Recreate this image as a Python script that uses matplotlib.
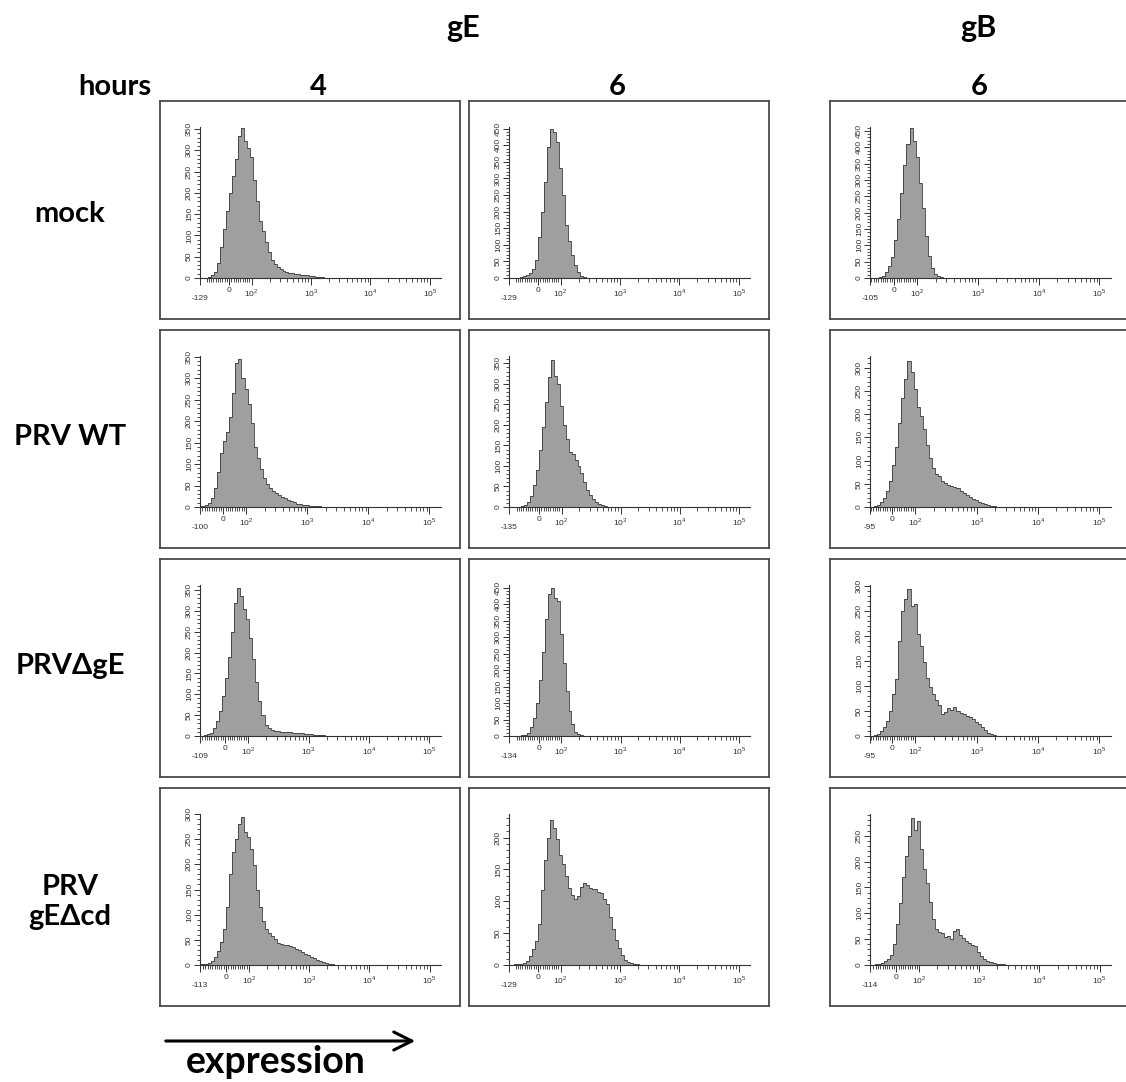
import numpy as np
import matplotlib
matplotlib.use('Agg')
import matplotlib.pyplot as plt
from matplotlib.scale import SymmetricalLogTransform
from matplotlib.ticker import NullFormatter
from matplotlib.patches import FancyArrowPatch

plt.rcParams['font.family'] = ['Liberation Sans', 'DejaVu Sans']
plt.rcParams['mathtext.fontset'] = 'custom'
plt.rcParams['mathtext.rm'] = 'Liberation Sans'

#--------------------------------------------------------------
# Data : histogram counts per bin (bins of 0.05 decade, from -0.55 decade)
#--------------------------------------------------------------
mock_gE4 = [0,0,0,1,2,6,15,36,72,115,158,200,240,280,335,352,322,305,285,230,180,135,110,85,60,42,32,26,21,17,14,12,11,10,9,8,7,6,5,4,3,2,2,1,1]
mock_gE6 = [0,0,0,0,1,2,5,9,16,26,55,125,200,290,395,450,440,410,330,250,160,110,70,38,18,7,3,1]
mock_gB6 = [0,0,0,0,0,1,3,7,17,38,65,115,180,260,345,410,460,420,370,290,215,130,68,30,13,6,2,1]

wt_gE4 = [0,0,1,2,3,5,9,22,44,82,125,155,175,210,265,335,345,300,275,240,195,140,115,88,68,54,45,37,33,28,23,20,17,14,11,8,6,5,4,3,3,2,2,1,1]
wt_gE6 = [0,0,0,0,1,2,5,13,26,54,90,140,195,255,318,358,320,300,245,200,165,134,128,115,100,82,62,42,30,19,11,7,4,2,1]
wt_gB6 = [0,0,0,0,1,2,5,11,20,34,55,90,130,180,235,275,315,290,255,215,195,168,133,105,85,72,66,57,52,48,46,44,40,35,30,25,21,17,14,11,8,6,4,3,2,1,1]

dgE_gE4 = [0,0,1,1,2,4,7,18,35,60,95,140,190,250,320,355,335,305,280,235,185,130,85,50,26,18,14,12,11,10,10,9,9,8,8,7,6,5,4,4,3,2,2,2,1,1]
dgE_gE6 = [0,0,0,1,1,2,4,10,27,55,100,170,255,355,430,450,420,410,310,220,135,75,35,13,5,3,1]
dgE_gB6 = [0,0,0,0,1,2,5,10,18,30,50,85,115,190,250,275,295,260,265,205,180,148,117,98,84,72,62,45,48,56,52,58,50,46,44,41,38,34,29,25,18,12,7,4,2,1,1,0,0,1]

dcd_gE4 = [0,0,1,1,2,4,8,15,28,46,72,115,180,225,250,280,295,265,255,230,198,150,115,88,72,63,57,52,44,42,40,39,37,36,32,29,25,22,19,16,13,10,7,5,3,2,1]
dcd_gE6 = [0,0,0,1,1,2,3,7,14,25,38,65,118,165,200,228,215,198,172,158,140,121,110,104,108,122,128,126,121,120,120,114,113,104,95,76,56,40,26,15,8,4,3,1,1]
dcd_gB6 = [0,0,0,0,1,2,4,8,12,20,40,80,120,170,210,250,285,262,278,225,185,158,122,88,70,64,62,54,57,50,66,70,58,52,46,42,38,36,26,18,12,7,5,3,2,1,1]

panels = [[mock_gE4, mock_gE6, mock_gB6],
          [wt_gE4, wt_gE6, wt_gB6],
          [dgE_gE4, dgE_gE6, dgE_gB6],
          [dcd_gE4, dcd_gE6, dcd_gB6]]

# minimum of the x axis of each panel
x_mins = [[-129, -129, -105],
          [-100, -135, -95],
          [-109, -134, -95],
          [-113, -129, -114]]

# top of the y axis of each panel
y_tops = [[355, 455, 462],
          [352, 368, 325],
          [362, 458, 302],
          [300, 237, 292]]

row_labels = ['mock', 'PRV WT', 'PRV\u0394gE', 'PRV\ngE\u0394cd']
col_hours = ['4', '6', '6']
proteins = ['gE', 'gB']

#--------------------------------------------------------------
# figure
#--------------------------------------------------------------
W, H = 1126, 1082
fig = plt.figure(figsize=(W / 100, H / 100), dpi=100)

# linear between -100 and 100, log outside (close to the logicle display)
LINTHRESH = 100
LINSCALE = 0.342
tr = SymmetricalLogTransform(10, LINTHRESH, LINSCALE)
bin_u = -0.55 + 0.05 * np.arange(52)
edges_all = tr.inverted().transform_non_affine(bin_u * LINTHRESH)

box_left = [160, 469, 830]
box_top = [101, 330, 559, 788]
BOX_W, BOX_H = 300, 218

bold = ['Lato', 'Open Sans', 'DejaVu Sans']
tick_col = '#333333'

for r in range(4):
    for c in range(3):
        L = box_left[c]
        T = box_top[r]
        frame = fig.add_axes([L / W, 1 - (T + BOX_H) / H, BOX_W / W, BOX_H / H])
        frame.set_xticks([])
        frame.set_yticks([])
        for sp in frame.spines.values():
            sp.set_color('#4a4a4a')
            sp.set_linewidth(1.3)

        ax = fig.add_axes([(L + 40) / W, 1 - (T + 177) / H, 241 / W, 151 / H])
        ax.patch.set_alpha(0)
        ax.set_xscale('symlog', linthresh=LINTHRESH, linscale=LINSCALE)

        h = panels[r][c]
        e = edges_all[:len(h) + 1]
        ax.stairs(h, e, fill=True, color='#9f9f9f', lw=0)
        ax.stairs(h, e, color='#3a3a3a', lw=0.6)

        xmin = x_mins[r][c]
        ymax = y_tops[r][c]
        ax.set_xlim(xmin, 1.55e5)
        ax.set_ylim(0, ymax)

        for s in ['top', 'right']:
            ax.spines[s].set_visible(False)
        for s in ['left', 'bottom']:
            ax.spines[s].set_color(tick_col)
            ax.spines[s].set_linewidth(0.8)

        # x ticks
        ax.set_xticks([xmin, 0, 100, 1e3, 1e4, 1e5],
                      ['\n%d' % xmin, '0', '$10^2$', '$10^3$', '$10^4$', '$10^5$'])
        minor = [v for v in range(-100, 100, 10) if v != 0 and v > xmin]
        for d in [100, 1000, 10000]:
            minor += [k * d for k in range(2, 10)]
        ax.set_xticks(minor, minor=True)
        ax.xaxis.set_minor_formatter(NullFormatter())
        ax.tick_params(axis='x', which='major', length=5, width=0.7, pad=1.5,
                       labelsize=6, colors=tick_col)
        ax.tick_params(axis='x', which='minor', length=3, width=0.6, colors=tick_col)

        # y ticks
        top_tick = (ymax // 50) * 50
        ax.set_yticks(np.arange(0, top_tick + 1, 50))
        ax.set_yticks(np.arange(0, ymax, 10), minor=True)
        ax.tick_params(axis='y', which='major', length=4, width=0.7, pad=1,
                       labelsize=6, labelrotation=90, colors=tick_col)
        ax.tick_params(axis='y', which='minor', length=2, width=0.6, colors=tick_col)
        for lab in ax.get_yticklabels():
            lab.set_va('center')

# headers
fig.text(463 / W, 1 - 28 / H, proteins[0], ha='center', va='center',
         fontsize=22, fontweight='bold', family=bold)
fig.text(978 / W, 1 - 28 / H, proteins[1], ha='center', va='center',
         fontsize=22, fontweight='bold', family=bold)
fig.text(115 / W, 1 - 87 / H, 'hours', ha='center', va='center',
         fontsize=21, fontweight='bold', family=bold)
for x, lab in zip([318, 617, 979], col_hours):
    fig.text(x / W, 1 - 87 / H, lab, ha='center', va='center',
             fontsize=21, fontweight='bold', family=bold)

for y, lab in zip([214, 437, 666, 902], row_labels):
    fig.text(70 / W, 1 - y / H, lab, ha='center', va='center', linespacing=1.15,
             fontsize=21, fontweight='bold', family=bold)

# expression arrow
arrow = FancyArrowPatch((163 / W, 1 - 1041 / H), (418 / W, 1 - 1041 / H),
                        transform=fig.transFigure, color='black', lw=2.2,
                        arrowstyle='->,head_length=13,head_width=6.5', mutation_scale=1)
fig.add_artist(arrow)
fig.text(276 / W, 1 - 1062 / H, 'expression', ha='center', va='center',
         fontsize=27, fontweight='bold', family=bold)

fig.savefig('out.png', dpi=100)
